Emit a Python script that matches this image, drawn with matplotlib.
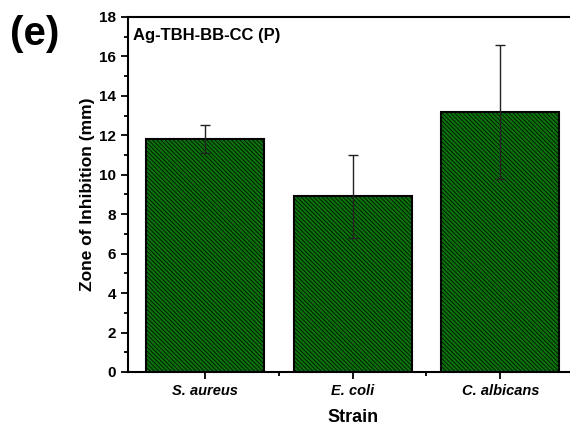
import numpy as np
import matplotlib.pyplot as plt
from matplotlib.ticker import MultipleLocator, FixedLocator

plt.rcParams['font.family'] = ['Liberation Sans', 'DejaVu Sans']
plt.rcParams['font.weight'] = 'bold'
plt.rcParams['hatch.linewidth'] = 0.5
plt.rcParams['hatch.color'] = '#065a06'

# data
strains = ['S. aureus', 'E. coli', 'C. albicans']
zone_mm = [11.8, 8.9, 13.2]
zone_err = [0.7, 2.1, 3.4]

fig = plt.figure(figsize=(5.7, 4.3), dpi=100)
ax = fig.add_axes([0.2246, 0.1349, 0.788, 0.8256])

x = np.arange(len(strains))
ax.bar(x, zone_mm, width=0.8, color='#0c720c', edgecolor='black', linewidth=1.5,
       hatch='\\\\\\\\\\\\\\\\', yerr=zone_err,
       error_kw=dict(ecolor='#222222', elinewidth=1.0, capsize=3.5, capthick=1.0))

ax.set_xlim(-0.52, 2.52)
ax.set_ylim(0, 18)
ax.set_xticks(x)
ax.set_xticklabels(strains, fontstyle='italic', fontweight='bold', fontsize=10.5)
ax.xaxis.set_minor_locator(FixedLocator([0.5, 1.5]))
ax.yaxis.set_major_locator(MultipleLocator(2))
ax.yaxis.set_minor_locator(MultipleLocator(1))
ax.set_yticks(np.arange(0, 19, 2))
ax.set_yticklabels([str(v) for v in range(0, 19, 2)], fontsize=11, fontweight='bold')
ax.tick_params(axis='both', which='major', direction='out', length=5, width=1.3)
ax.tick_params(axis='both', which='minor', direction='out', length=3, width=1.3)
for sp in ax.spines.values():
    sp.set_linewidth(1.5)

ax.set_xlabel('Strain', fontsize=13, fontweight='bold', labelpad=8)
ax.set_ylabel('Zone of Inhibition (mm)', fontsize=12.5, fontweight='bold', labelpad=3)
ax.text(0.01, 0.97, 'Ag-TBH-BB-CC (P)', transform=ax.transAxes, fontsize=12,
        fontweight='bold', va='top', ha='left')
fig.text(0.018, 0.965, '(e)', fontsize=29, fontweight='bold', va='top', ha='left')

fig.savefig('out.png', dpi=100)
